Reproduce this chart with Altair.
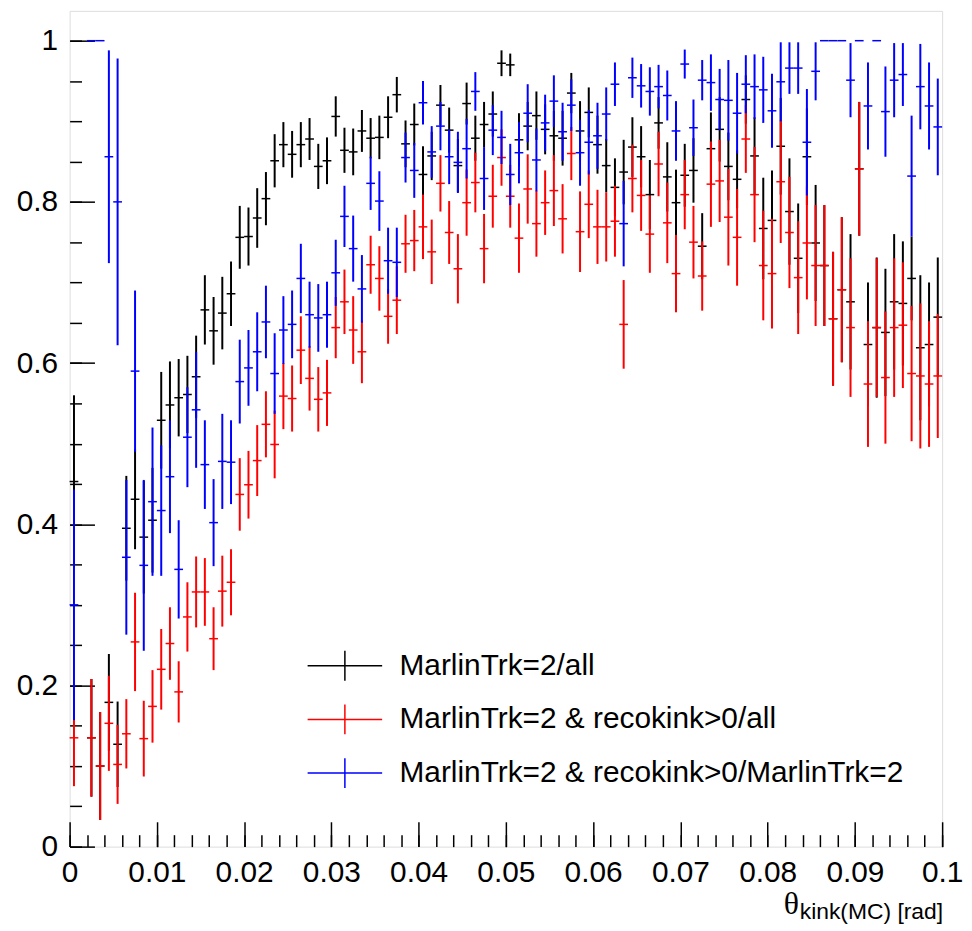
import altair as alt
import pandas as pd

BIN_WIDTH = 0.001

SERIES = ["MarlinTrk=2/all",
          "MarlinTrk=2 & recokink>0/all",
          "MarlinTrk=2 & recokink>0/MarlinTrk=2"]
COLORS = ["#000000", "#ff0000", "#0000ff"]

# efficiency per 0.001 rad bin (None = empty bin)
all_val = [0.453, None, 0.135, 0.100, 0.179, 0.127, 0.395, 0.431, 0.384, 0.405,
           0.529, 0.548, 0.557, 0.561, 0.583, 0.666, 0.640, 0.662, 0.686, 0.756,
           0.757, 0.780, 0.804, 0.851, 0.871, 0.859, 0.871, 0.878, 0.844, 0.851,
           0.906, 0.864, 0.862, 0.888, 0.879, 0.880, 0.905, 0.933, 0.872, 0.896,
           0.834, 0.857, 0.920, 0.889, 0.845, 0.922, 0.879, 0.896, 0.909, 0.972,
           0.970, 0.877, 0.894, 0.907, 0.890, 0.882, 0.879, 0.935, 0.888, 0.911,
           0.871, 0.845, 0.818, 0.837, 0.868, 0.856, 0.809, 0.898, 0.831, 0.799,
           0.833, 0.839, 0.745, 0.866, 0.890, 0.844, 0.828, 0.927, 0.857, 0.767,
           0.777, 0.869, 0.788, 0.730, 0.856, 0.749, 0.721, 0.655, 0.691, 0.676,
           0.841, 0.623, 0.644, 0.638, 0.676, 0.674, 0.705, 0.619, 0.623, 0.657]
all_err = [0.107, None, 0.073, 0.067, 0.060, 0.053, 0.065, 0.062, 0.070, 0.065,
           0.060, 0.054, 0.048, 0.048, 0.051, 0.043, 0.042, 0.045, 0.040, 0.039,
           0.036, 0.037, 0.033, 0.033, 0.028, 0.029, 0.028, 0.026, 0.028, 0.029,
           0.025, 0.028, 0.029, 0.026, 0.025, 0.027, 0.026, 0.022, 0.029, 0.026,
           0.035, 0.030, 0.025, 0.028, 0.033, 0.026, 0.028, 0.028, 0.028, 0.016,
           0.014, 0.033, 0.030, 0.030, 0.031, 0.031, 0.034, 0.025, 0.037, 0.031,
           0.036, 0.033, 0.036, 0.040, 0.037, 0.038, 0.043, 0.032, 0.043, 0.041,
           0.039, 0.040, 0.041, 0.045, 0.040, 0.042, 0.036, 0.030, 0.048, 0.063,
           0.062, 0.060, 0.066, 0.068, 0.060, 0.072, 0.075, 0.083, 0.090, 0.084,
           0.083, 0.077, 0.087, 0.079, 0.084, 0.077, 0.052, 0.090, 0.077, 0.074]

kink_val = [0.135, None, 0.135, 0.100, 0.153, 0.102, 0.140, 0.254, 0.134, 0.174,
            0.220, 0.252, 0.192, 0.285, 0.316, 0.316, 0.258, 0.317, 0.328, 0.437,
            0.449, 0.479, 0.524, 0.499, 0.559, 0.556, 0.616, 0.581, 0.555, 0.563,
            0.644, 0.676, 0.641, 0.614, 0.722, 0.705, 0.658, 0.678, 0.748, 0.752,
            0.769, 0.738, 0.823, 0.762, 0.717, 0.799, 0.824, 0.742, 0.807, 0.855,
            0.807, 0.755, 0.816, 0.773, 0.799, 0.814, 0.779, 0.860, 0.763, 0.797,
            0.769, 0.769, 0.776, 0.648, 0.829, 0.808, 0.760, 0.847, 0.774, 0.711,
            0.809, 0.750, 0.708, 0.822, 0.826, 0.781, 0.756, 0.878, 0.809, 0.721,
            0.711, 0.825, 0.762, 0.706, 0.749, 0.721, 0.721, 0.655, 0.691, 0.644,
            0.841, 0.574, 0.644, 0.582, 0.644, 0.647, 0.587, 0.584, 0.574, 0.584]
kink_err = [0.060, None, 0.073, 0.067, 0.059, 0.049, 0.043, 0.061, 0.047, 0.045,
            0.050, 0.045, 0.038, 0.043, 0.044, 0.042, 0.039, 0.044, 0.041, 0.045,
            0.042, 0.044, 0.041, 0.042, 0.041, 0.041, 0.042, 0.040, 0.040, 0.041,
            0.038, 0.040, 0.042, 0.039, 0.036, 0.040, 0.034, 0.042, 0.036, 0.038,
            0.040, 0.040, 0.035, 0.039, 0.043, 0.041, 0.037, 0.043, 0.039, 0.035,
            0.039, 0.043, 0.043, 0.041, 0.040, 0.044, 0.043, 0.033, 0.050, 0.042,
            0.046, 0.043, 0.044, 0.055, 0.042, 0.044, 0.048, 0.040, 0.050, 0.048,
            0.043, 0.045, 0.043, 0.053, 0.051, 0.060, 0.060, 0.042, 0.059, 0.068,
            0.068, 0.076, 0.069, 0.070, 0.070, 0.075, 0.075, 0.083, 0.090, 0.086,
            0.083, 0.078, 0.086, 0.082, 0.086, 0.078, 0.084, 0.090, 0.078, 0.077]

ratio_val = [0.300, None, 1.000, 1.000, 0.856, 0.800, 0.359, 0.590, 0.349, 0.428,
             0.417, 0.459, 0.344, 0.508, 0.542, 0.474, 0.402, 0.478, 0.477, 0.577,
             0.594, 0.614, 0.651, 0.587, 0.641, 0.648, 0.705, 0.660, 0.656, 0.660,
             0.712, 0.782, 0.742, 0.692, 0.823, 0.801, 0.727, 0.725, 0.855, 0.839,
             0.923, 0.862, 0.894, 0.856, 0.849, 0.866, 0.937, 0.829, 0.889, 0.880,
             0.834, 0.861, 0.910, 0.852, 0.898, 0.925, 0.887, 0.920, 0.861, 0.874,
             0.882, 0.909, 0.946, 0.773, 0.954, 0.944, 0.937, 0.943, 0.932, 0.888,
             0.971, 0.892, 0.951, 0.948, 0.927, 0.926, 0.910, 0.946, 0.943, 0.939,
             0.913, 0.949, 0.966, 0.966, 0.874, 0.962, 1.000, 1.000, 1.000, 0.951,
             1.000, 0.919, 1.000, 0.912, 0.951, 0.958, 0.832, 0.943, 0.919, 0.893]
ratio_err = [0.143, None, 0.000, 0.000, 0.132, 0.178, 0.096, 0.100, 0.106, 0.092,
             0.081, 0.070, 0.061, 0.062, 0.072, 0.055, 0.054, 0.059, 0.052, 0.052,
             0.047, 0.049, 0.045, 0.050, 0.042, 0.042, 0.043, 0.041, 0.042, 0.041,
             0.041, 0.038, 0.041, 0.042, 0.033, 0.037, 0.041, 0.043, 0.031, 0.034,
             0.027, 0.032, 0.030, 0.034, 0.038, 0.037, 0.024, 0.039, 0.031, 0.033,
             0.038, 0.038, 0.036, 0.039, 0.035, 0.032, 0.036, 0.032, 0.041, 0.040,
             0.041, 0.033, 0.027, 0.053, 0.025, 0.027, 0.030, 0.027, 0.031, 0.037,
             0.018, 0.035, 0.025, 0.035, 0.038, 0.050, 0.050, 0.036, 0.040, 0.041,
             0.046, 0.049, 0.032, 0.032, 0.066, 0.036, 0.000, 0.000, 0.000, 0.046,
             0.000, 0.054, 0.000, 0.056, 0.046, 0.039, 0.075, 0.053, 0.054, 0.060]

X_MAJOR = [i / 100 for i in range(11)]
X_MINOR = [i / 500 for i in range(51)]
Y_MAJOR = [i / 5 for i in range(6)]
Y_MINOR = [i / 20 for i in range(21)]

FONT = "Liberation Sans"


def frame(name, vals, errs):
    rows = []
    for i, (v, e) in enumerate(zip(vals, errs)):
        if v is None:
            continue
        left = i * BIN_WIDTH
        rows.append(dict(series=name, center=left + BIN_WIDTH / 2, x0=left,
                         x1=left + BIN_WIDTH, value=v,
                         lo=max(v - e, 0.0), hi=min(v + e, 1.0), err=e))
    return pd.DataFrame(rows)


xscale = alt.Scale(domain=[0, 0.1], nice=False, zero=False)
yscale = alt.Scale(domain=[0, 1.037], nice=False, zero=False)

color = alt.Color(
    "series:N",
    scale=alt.Scale(domain=SERIES, range=COLORS),
    legend=alt.Legend(
        orient="none", legendX=261, legendY=643, title=None,
        symbolType="M-2.5,0H2.5M0,-1V1", symbolSize=900,
        symbolStrokeWidth=1.5, labelFont=FONT, labelFontSize=30,
        labelColor="black", labelOffset=39, rowPadding=18, padding=0,
        labelLimit=0, direction="vertical"),
)


def x_axis(kind):
    if kind == "main":
        return alt.Axis(orient="bottom", values=X_MAJOR, format=".2~f",
                        ticks=False, domain=False, grid=False,
                        labelFont=FONT, labelFontSize=30, labelColor="black",
                        labelPadding=11, labelFlush=False, labelOverlap=False,
                        labelBound=False, title=None)
    size = 25 if kind == "major" else 12
    return alt.Axis(orient="bottom", values=X_MAJOR if kind == "major" else X_MINOR,
                    labels=False, domain=False, grid=False, ticks=True,
                    tickSize=size, offset=-size, tickColor="black",
                    tickWidth=1.5, title=None)


def y_axis(kind):
    if kind == "main":
        return alt.Axis(orient="left", values=Y_MAJOR, format=".1~f",
                        ticks=False, domain=False, grid=False,
                        labelFont=FONT, labelFontSize=30, labelColor="black",
                        labelPadding=12, labelFlush=False, labelOverlap=False,
                        labelBound=False, title=None)
    size = 25 if kind == "major" else 12
    return alt.Axis(orient="left", values=Y_MAJOR if kind == "major" else Y_MINOR,
                    labels=False, domain=False, grid=False, ticks=True,
                    tickSize=size, offset=-size, tickColor="black",
                    tickWidth=1.5, title=None)


axis_plan = ["main", "major", "minor", None, None, None]
layers = []
k = 0
for name, vals, errs in [(SERIES[0], all_val, all_err),
                         (SERIES[1], kink_val, kink_err),
                         (SERIES[2], ratio_val, ratio_err)]:
    df = frame(name, vals, errs)
    dv = df[df["err"] > 0]
    kind = axis_plan[k]
    vert = alt.Chart(dv).mark_rule(strokeWidth=2).encode(
        x=alt.X("center:Q", scale=xscale, axis=x_axis(kind) if kind else None),
        y=alt.Y("lo:Q", scale=yscale, axis=y_axis(kind) if kind else None),
        y2="hi:Q",
        color=color,
    )
    k += 1
    kind = axis_plan[k]
    horiz = alt.Chart(df).mark_rule(strokeWidth=1.5).encode(
        x=alt.X("x0:Q", scale=xscale, axis=x_axis(kind) if kind else None),
        x2="x1:Q",
        y=alt.Y("value:Q", scale=yscale, axis=y_axis(kind) if kind else None),
        color=color,
    )
    k += 1
    layers += [vert, horiz]

theta = alt.Chart(pd.DataFrame({"t": ["θ"]})).mark_text(
    font="Liberation Serif", fontSize=32, align="right", baseline="alphabetic",
    color="black").encode(text="t:N", x=alt.value(734), y=alt.value(909))
sub = alt.Chart(pd.DataFrame({"t": ["kink(MC) [rad]"]})).mark_text(
    font=FONT, fontSize=23, align="right", baseline="alphabetic",
    color="black").encode(text="t:N", x=alt.value(879), y=alt.value(914))

chart = alt.layer(*layers, theta, sub).resolve_axis(
    x="independent", y="independent"
).properties(
    width=878, height=841,
    autosize=alt.AutoSizeParams(type="none"),
    padding={"left": 62, "top": 0, "right": 22, "bottom": 78},
).configure_view(stroke="black", strokeWidth=2).configure(background="white")

chart.save("out.html", embed_options={"renderer": "svg", "actions": False})
